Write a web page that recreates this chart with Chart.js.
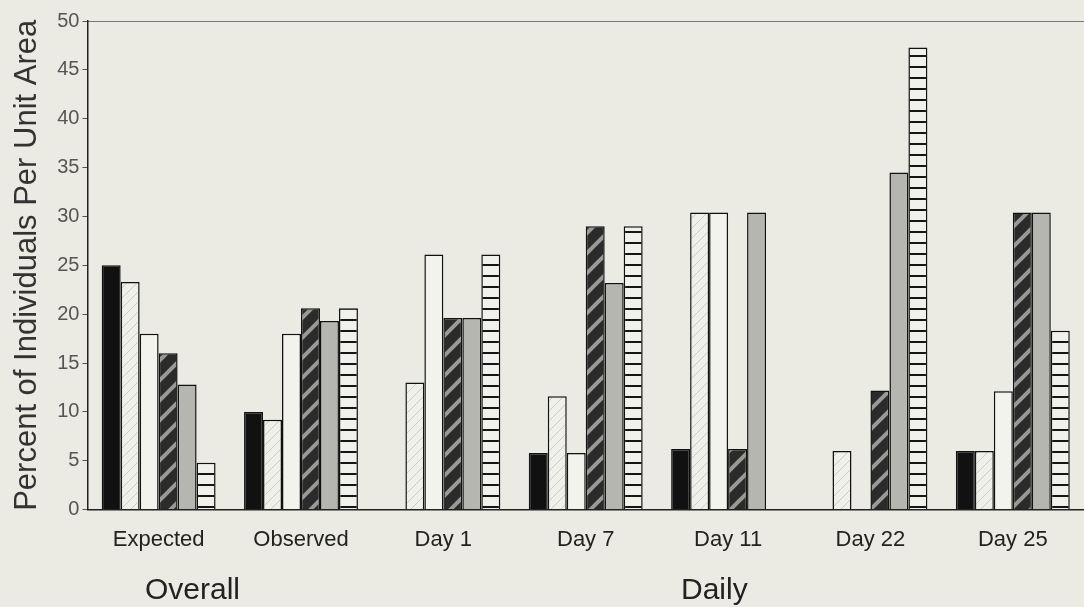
<!DOCTYPE html>
<html>
<head>
<meta charset="utf-8">
<script src="https://cdn.jsdelivr.net/npm/chart.js"></script>
<style>
  html, body { margin: 0; padding: 0; background: #ebebe3; }
  #wrap { position: relative; width: 1084px; height: 607px; }
  .group { position: absolute; font-family: "Liberation Sans", Arial, sans-serif; font-size: 30px; color: #222; }
</style>
</head>
<body>
<div id="wrap">
  <canvas id="chart" width="1084" height="607"></canvas>
  <div class="group" style="left:145px; top:572px;">Overall</div>
  <div class="group" style="left:681px; top:572px;">Daily</div>
</div>
<script>
const categories = ["Expected", "Observed", "Day 1", "Day 7", "Day 11", "Day 22", "Day 25"]
const solidBlack = [25, 10, 0, 5.8, 6.2, 0, 6]
const lightHatch = [23.3, 9.2, 13, 11.6, 30.4, 6, 6]
const plainWhite = [18, 18, 26.1, 5.8, 30.4, 0, 12.1]
const darkHatch = [16, 20.6, 19.6, 29, 6.2, 12.2, 30.4]
const plainGray = [12.8, 19.3, 19.6, 23.2, 30.4, 34.5, 30.4]
const horizLines = [4.8, 20.6, 26.1, 29, 0, 47.3, 18.3]
const yTicks = [0, 5, 10, 15, 20, 25, 30, 35, 40, 45, 50]

function makePattern(size, base, draw) {
  const c = document.createElement("canvas")
  c.width = size
  c.height = size
  const ctx = c.getContext("2d")
  ctx.fillStyle = base
  ctx.fillRect(0, 0, size, size)
  draw(ctx, size)
  return document.getElementById("chart").getContext("2d").createPattern(c, "repeat")
}

function diagonal(color, width) {
  return (ctx, s) => {
    ctx.strokeStyle = color
    ctx.lineWidth = width
    ctx.beginPath()
    ctx.moveTo(-s, 2 * s); ctx.lineTo(2 * s, -s)
    ctx.moveTo(-s, s); ctx.lineTo(s, -s)
    ctx.moveTo(0, 2 * s); ctx.lineTo(2 * s, 0)
    ctx.stroke()
  }
}

const lightPattern = makePattern(10, "#f0f0ea", diagonal("#bdbdb7", 0.7))
const darkPattern = makePattern(20, "#2b2b2b", diagonal("#999995", 4))
const linePattern = makePattern(11, "#f1f1eb", (ctx, s) => {
  ctx.fillStyle = "#151515"
  ctx.fillRect(0, 0, s, 2)
})

const fills = ["#111111", lightPattern, "#f3f3ed", darkPattern, "#b6b6b1", linePattern]
const seriesList = [solidBlack, lightHatch, plainWhite, darkHatch, plainGray, horizLines]

new Chart(document.getElementById("chart"), {
  type: "bar",
  data: {
    labels: categories,
    datasets: seriesList.map((values, i) => ({
      data: values,
      backgroundColor: fills[i],
      borderColor: "#111",
      borderWidth: 1.5,
      categoryPercentage: 0.8,
      barPercentage: 1.0,
    })),
  },
  options: {
    responsive: false,
    animation: false,
    layout: { padding: { top: 21, right: 0, bottom: 37, left: 9 } },
    plugins: { legend: { display: false }, tooltip: { enabled: false } },
    scales: {
      x: {
        grid: { display: false, drawTicks: false },
        border: { color: "#222", width: 1.5 },
        ticks: { color: "#222", padding: 17, font: { family: "Liberation Sans", size: 22 } },
      },
      xTop: {
        position: "top",
        labels: categories,
        grid: { display: false, drawTicks: false },
        border: { color: "#777", width: 1, dash: [2, 2] },
        ticks: { display: false },
      },
      y: {
        min: 0,
        max: 50,
        afterBuildTicks: axis => { axis.ticks = yTicks.map(v => ({ value: v })) },
        grid: { drawOnChartArea: false, tickLength: 5, color: "#555" },
        border: { color: "#222", width: 1.5 },
        ticks: { color: "#555", padding: 3, font: { family: "Liberation Sans", size: 20 } },
        title: {
          display: true,
          text: "Percent of Individuals Per Unit Area",
          color: "#333",
          padding: { top: 0, bottom: 8 },
          font: { family: "Liberation Sans", size: 31 },
        },
      },
    },
  },
})
</script>
</body>
</html>
